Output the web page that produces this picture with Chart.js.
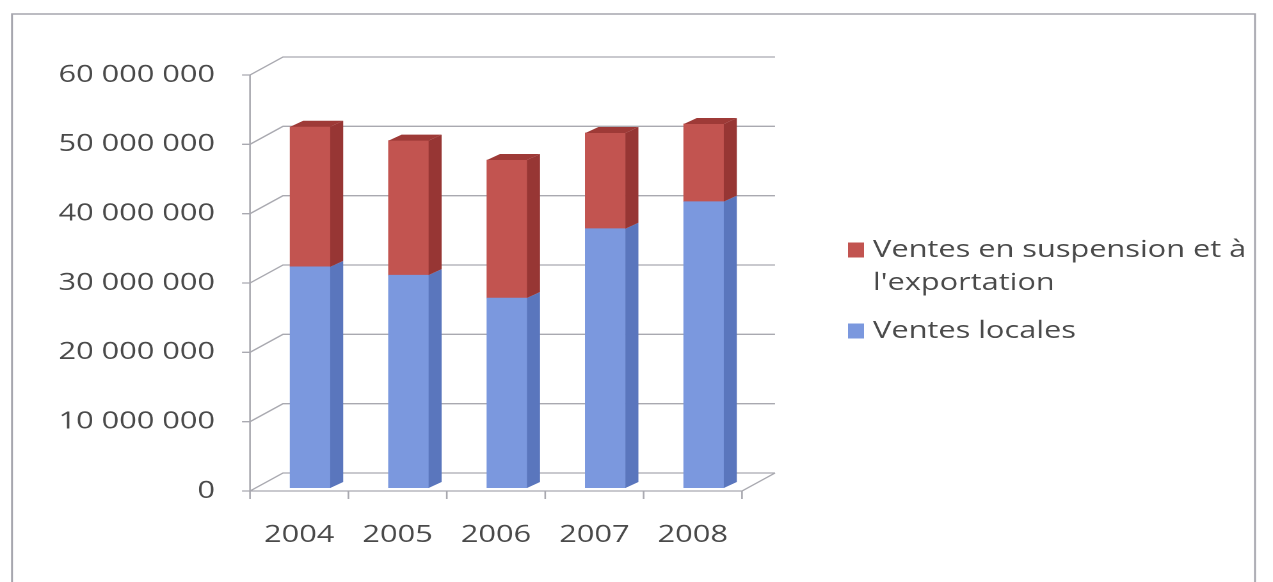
<!DOCTYPE html>
<html>
<head>
<meta charset="utf-8">
<script src="https://cdn.jsdelivr.net/npm/chart.js@4.4.1/dist/chart.umd.min.js"></script>
<style>
    html, body { margin: 0; padding: 0; background: #fff; overflow: hidden; }
    #wrap { position: absolute; left: 0; top: 0; height: 582px; transform-origin: 0 0; }
</style>
</head>
<body>
<div id="wrap"><canvas id="chart"></canvas></div>
<script>
// Données
const annees = ['2004', '2005', '2006', '2007', '2008'];
const ventesLocales = [31900000, 30700000, 27400000, 37400000, 41300000];
const ventesExport = [20200000, 19400000, 19900000, 13800000, 11200000];
const yTicks = [0, 10000000, 20000000, 30000000, 40000000, 50000000, 60000000];
const legendeExport = ['Ventes en suspension et à', "l'exportation"];
const legendeLocales = ['Ventes locales'];

// le scan est étiré horizontalement : on dessine plus étroit puis on étire
const K = 1.28;
const W = Math.round(1273 / K);
const wrap = document.getElementById('wrap');
wrap.style.width = W + 'px';
wrap.style.transform = 'scaleX(' + K + ')';

const FONT = '"Open Sans", sans-serif';
const TXT = '#4a4a4a';
const GRID = '#a9a9b0';

const BLEU = { front: '#7b98de', side: '#5a76bd', top: '#6a86cc' };
const ROUGE = { front: '#c25450', side: '#973634', top: '#9e3a37' };

function formatNombre(v) {
    return String(v).replace(/\B(?=(\d{3})+(?!\d))/g, ' ');
}

// cadre, murs et sol en perspective
const decor3d = {
    id: 'decor3d',
    beforeDraw(chart) {
        const ctx = chart.ctx, a = chart.chartArea;
        const ys = chart.scales.y;
        const gx = 33 / K, gy = 18;
        ctx.save();
        // cadre extérieur
        ctx.strokeStyle = '#a6a6ae';
        ctx.lineWidth = 1.5;
        ctx.strokeRect(12 / K, 14, (1255 - 12) / K, 700);

        ctx.strokeStyle = GRID;
        ctx.lineWidth = 1.3;
        yTicks.forEach(v => {
            const y = ys.getPixelForValue(v);
            ctx.beginPath();
            ctx.moveTo(a.left - 8 / K, y);
            ctx.lineTo(a.left, y);
            ctx.lineTo(a.left + gx, y - gy);
            ctx.lineTo(a.right + gx, y - gy);
            ctx.stroke();
        });
        // axe vertical + sol
        ctx.beginPath();
        ctx.moveTo(a.left, ys.getPixelForValue(yTicks[yTicks.length - 1]));
        ctx.lineTo(a.left, a.bottom);
        ctx.lineTo(a.right, a.bottom);
        ctx.lineTo(a.right + gx, a.bottom - gy);
        ctx.stroke();
        // graduations des catégories
        const n = annees.length;
        for (let i = 0; i <= n; i++) {
            const x = a.left + i * a.width / n;
            ctx.beginPath();
            ctx.moveTo(x, a.bottom);
            ctx.lineTo(x, a.bottom + 8);
            ctx.stroke();
        }
        ctx.restore();
    },
    beforeDatasetsDraw(chart) {
        chart.ctx.save();
        chart.ctx.translate(11 / K, -3);
    },
    afterDatasetsDraw(chart) {
        const ctx = chart.ctx;
        const dx = 13 / K, dy = 6;
        const couleurs = [BLEU, ROUGE];
        const nSets = chart.data.datasets.length;
        for (let d = 0; d < nSets; d++) {
            const meta = chart.getDatasetMeta(d);
            const c = couleurs[d];
            meta.data.forEach(bar => {
                const p = bar.getProps(['x', 'y', 'base', 'width'], true);
                const right = p.x + p.width / 2, left = p.x - p.width / 2;
                const top = Math.min(p.y, p.base), bottom = Math.max(p.y, p.base);
                ctx.fillStyle = c.side;
                ctx.beginPath();
                ctx.moveTo(right, top);
                ctx.lineTo(right + dx, top - dy);
                ctx.lineTo(right + dx, bottom - dy);
                ctx.lineTo(right, bottom);
                ctx.closePath();
                ctx.fill();
                if (d === nSets - 1) {
                    ctx.fillStyle = c.top;
                    ctx.beginPath();
                    ctx.moveTo(left, top);
                    ctx.lineTo(left + dx, top - dy);
                    ctx.lineTo(right + dx, top - dy);
                    ctx.lineTo(right, top);
                    ctx.closePath();
                    ctx.fill();
                }
            });
        }
        ctx.restore();
    },
    afterDraw(chart) {
        const ctx = chart.ctx;
        const items = [
            { lignes: legendeExport, couleur: ROUGE.front, y: 250 },
            { lignes: legendeLocales, couleur: BLEU.front, y: 331 }
        ];
        ctx.save();
        ctx.font = '24px ' + FONT;
        ctx.fillStyle = TXT;
        ctx.textBaseline = 'middle';
        items.forEach(it => {
            ctx.fillStyle = it.couleur;
            ctx.fillRect(848 / K, it.y - 7.5, 16 / K, 15);
            ctx.fillStyle = TXT;
            it.lignes.forEach((l, i) => ctx.fillText(l, 873 / K, it.y + i * 33));
        });
        ctx.restore();
    }
};

const ctx = document.getElementById('chart').getContext('2d');
new Chart(ctx, {
    type: 'bar',
    data: {
        labels: annees,
        datasets: [
            {
                label: legendeLocales.join(' '),
                data: ventesLocales,
                backgroundColor: BLEU.front,
                barThickness: 40 / K
            },
            {
                label: legendeExport.join(' '),
                data: ventesExport,
                backgroundColor: ROUGE.front,
                barThickness: 40 / K
            }
        ]
    },
    options: {
        responsive: true,
        maintainAspectRatio: false,
        animation: false,
        devicePixelRatio: 2,
        layout: { padding: { top: 75, right: W - 742 / K, left: 0, bottom: 0 } },
        plugins: { legend: { display: false }, tooltip: { enabled: false } },
        scales: {
            x: {
                stacked: true,
                grid: { display: false, drawTicks: false },
                border: { display: false },
                ticks: { color: TXT, font: { family: FONT, size: 24 }, padding: 30, maxRotation: 0 },
                afterFit(scale) { scale.height = 582 - 491; }
            },
            y: {
                stacked: true,
                min: 0,
                max: 60000000,
                grid: { display: false, drawTicks: false },
                border: { display: false },
                afterBuildTicks(scale) { scale.ticks = yTicks.map(v => ({ value: v })); },
                ticks: {
                    color: TXT,
                    font: { family: FONT, size: 24 },
                    padding: 35 / K,
                    callback: v => formatNombre(v)
                },
                afterFit(scale) { scale.width = 250 / K; }
            }
        }
    },
    plugins: [decor3d]
});
</script>
</body>
</html>
